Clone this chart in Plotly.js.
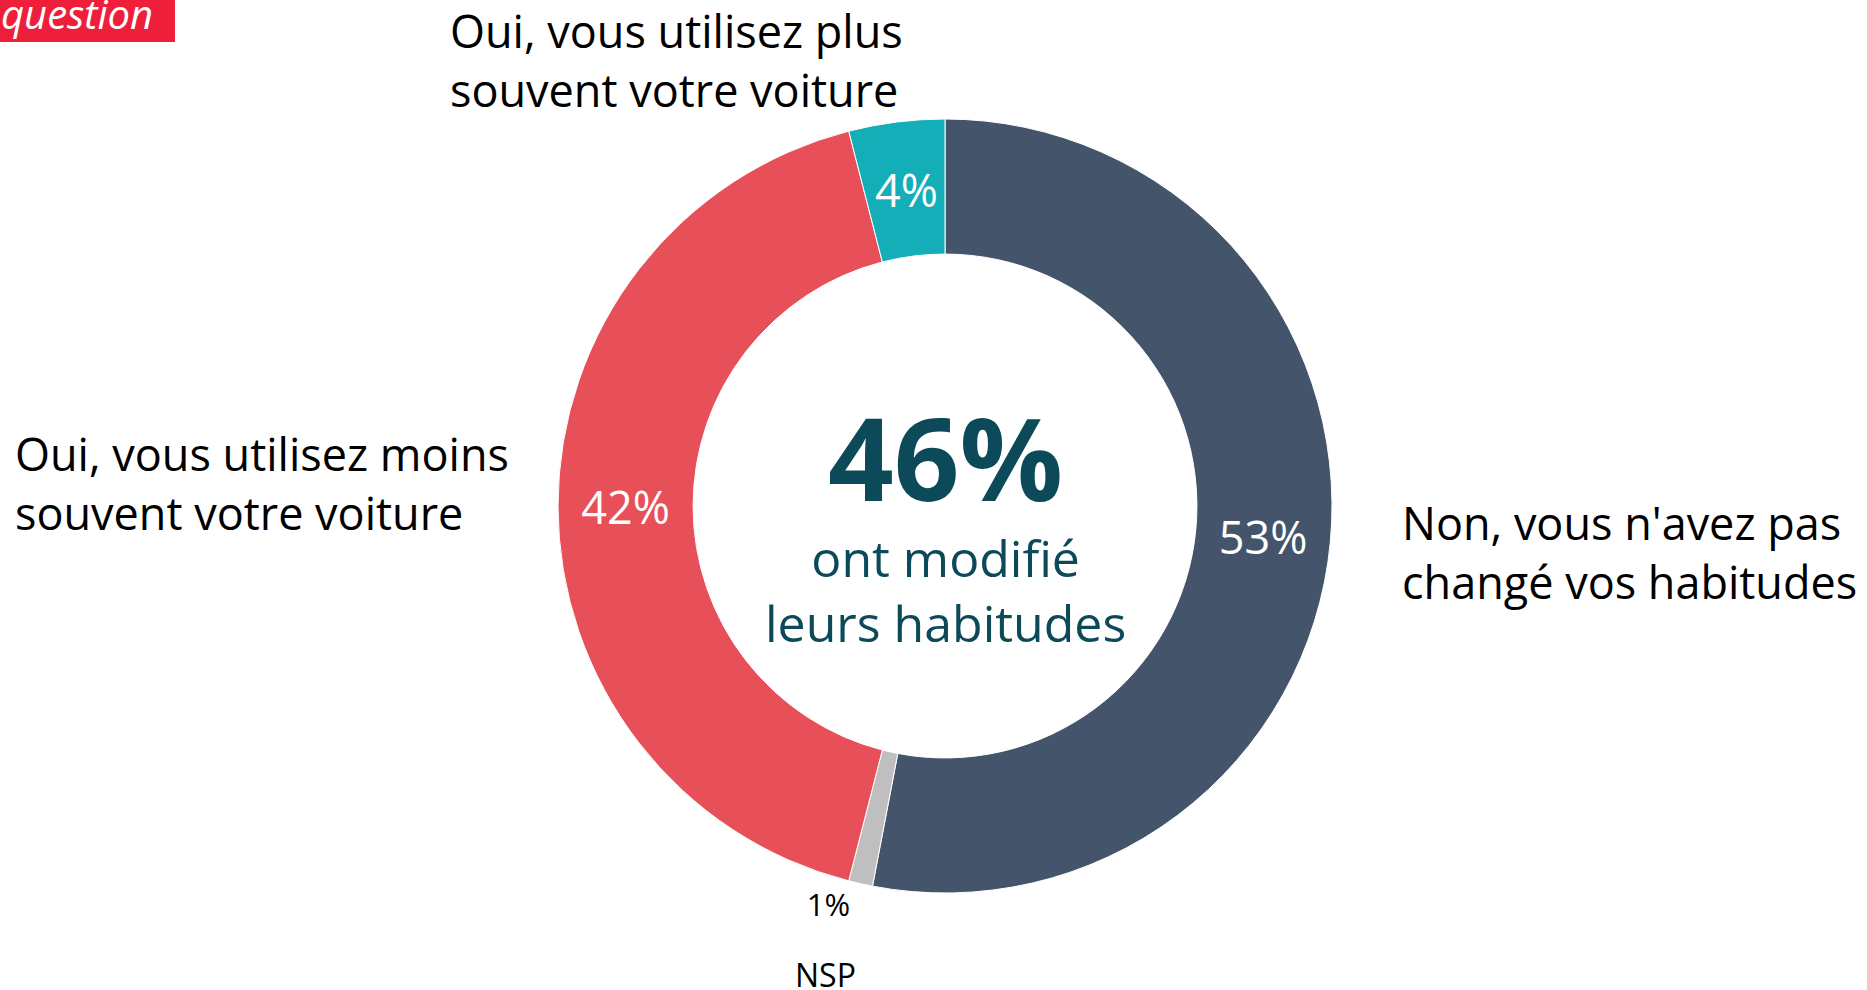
<!DOCTYPE html>
<html>
<head>
<meta charset="utf-8">
<script src="https://cdn.plot.ly/plotly-3.0.1.min.js"></script>
<style>
html,body{margin:0;padding:0;background:#fff;}
#chart{width:1867px;height:990px;}
</style>
</head>
<body>
<div id="chart"></div>
<script>
// ---- data ----
const labels = ["Non, vous n'avez pas<br>changé vos habitudes", "NSP", "Oui, vous utilisez moins<br>souvent votre voiture", "Oui, vous utilisez plus<br>souvent votre voiture"];
const values = [53, 1, 42, 4];
const colors = ["#44546A", "#BFBFBF", "#E75058", "#14AEB8"];
const centerValue = values[2] + values[3];
const centerCaption = "ont modifié<br>leurs habitudes";
const tagText = "question";

const W = 1867, H = 990;
const px = x => x / W;
const py = y => 1 - y / H;
const FONT = "Open Sans, Noto Sans, sans-serif";

// pie geometry (pixels)
const CX = 945, CY = 506, R = 387, HOLE = 0.651;

const trace = {
  type: "pie",
  labels: labels,
  values: values,
  sort: false,
  direction: "clockwise",
  rotation: 0,
  hole: HOLE,
  marker: {colors: colors, line: {color: "#ffffff", width: 1}},
  texttemplate: "%{value}%",
  textposition: ["inside", "outside", "inside", "none"],
  insidetextorientation: "horizontal",
  insidetextfont: {family: FONT, size: 45, color: "#ffffff"},
  outsidetextfont: {family: FONT, size: 31, color: "#000000"},
  showlegend: false,
  hoverinfo: "label+value",
  domain: {x: [px(CX - R), px(CX + R)], y: [py(CY + R), py(CY - R)]}
};

// label for the small teal slice, placed at the middle of its ring segment
const total = values.reduce((a, b) => a + b, 0);
const before = values.slice(0, 3).reduce((a, b) => a + b, 0);
const midAngle = (before + values[3] / 2) / total * 2 * Math.PI;
const midR = R * (1 + HOLE) / 2;
const smallX = CX + midR * Math.sin(midAngle);
const smallY = CY - midR * Math.cos(midAngle);

const labelFont = {family: FONT, size: 45, color: "#000000"};
const annotations = [
  {text: values[3] + "%", x: px(smallX + 2), y: py(smallY), xanchor: "center", yanchor: "middle", font: {family: FONT, size: 45, color: "#ffffff"}},
  {text: labels[3], x: px(448), y: py(60), xanchor: "left", yanchor: "middle", align: "left", font: labelFont},
  {text: labels[2], x: px(13), y: py(483), xanchor: "left", yanchor: "middle", align: "left", font: labelFont},
  {text: labels[0], x: px(1400), y: py(552), xanchor: "left", yanchor: "middle", align: "left", font: labelFont},
  {text: labels[1], x: px(825), y: py(974), xanchor: "center", yanchor: "middle", font: {family: FONT, size: 32, color: "#000000"}},
  {text: "<b>" + centerValue + "%</b>", x: px(945), y: py(456), xanchor: "center", yanchor: "middle", font: {family: FONT, size: 115, color: "#0C4A5A"}},
  {text: centerCaption, x: px(945), y: py(590), xanchor: "center", yanchor: "middle", align: "center", font: {family: FONT, size: 50, color: "#0C4A5A"}},
  {text: "<i>" + tagText + "</i>", x: px(-1), y: py(14), xanchor: "left", yanchor: "middle", font: {family: FONT, size: 40, color: "#ffffff"}}
];
annotations.forEach(a => { a.xref = "paper"; a.yref = "paper"; a.showarrow = false; });

const layout = {
  width: W, height: H,
  margin: {l: 0, r: 0, t: 0, b: 0},
  paper_bgcolor: "#ffffff",
  plot_bgcolor: "#ffffff",
  shapes: [{type: "rect", xref: "paper", yref: "paper", x0: 0, x1: px(175), y0: py(42), y1: 1, fillcolor: "#EE1F3B", line: {width: 0}, layer: "below"}],
  annotations: annotations
};

Plotly.newPlot("chart", [trace], layout, {displayModeBar: false, staticPlot: true});
</script>
</body>
</html>
